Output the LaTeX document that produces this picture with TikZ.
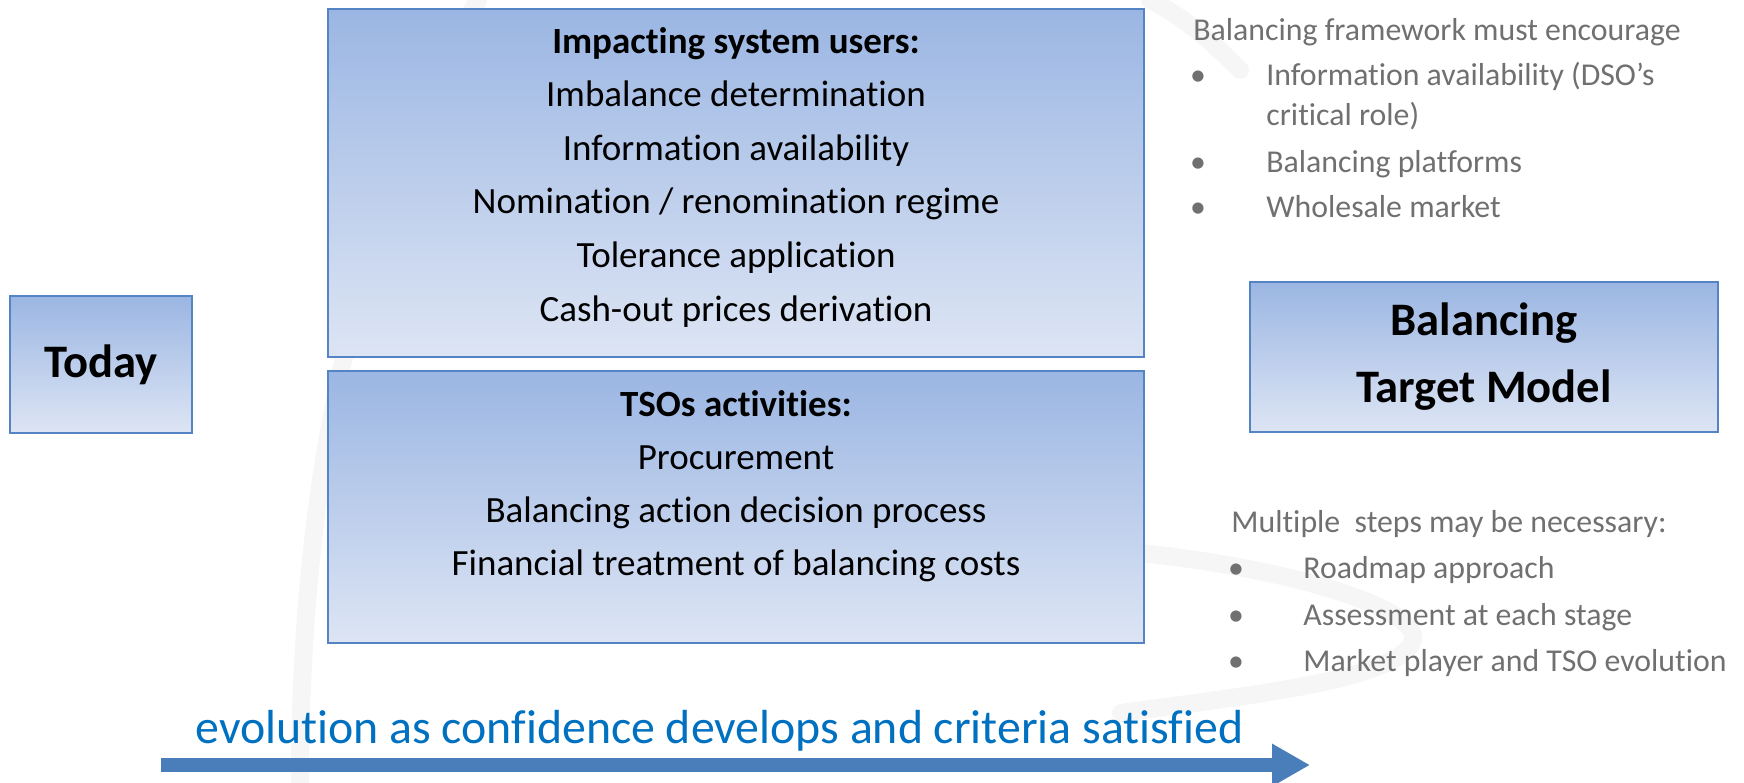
\documentclass[tikz,border=0pt]{standalone}
\usepackage{fontspec}
\setmainfont[Ligatures=NoCommon]{Carlito}
\usetikzlibrary{arrows.meta}

\definecolor{boxtop}{RGB}{155,182,227}
\definecolor{boxbot}{RGB}{221,229,244}
\definecolor{boxline}{RGB}{84,132,196}
\definecolor{notegrey}{RGB}{112,112,112}
\definecolor{evoblue}{RGB}{0,112,192}
\definecolor{arrowblue}{RGB}{74,126,187}

\begin{document}
\begin{tikzpicture}
  [x=0.5pt,y=-0.5pt,
   panel/.style={draw=boxline,line width=1pt,top color=boxtop,bottom color=boxbot,inner sep=0pt},
   bigtext/.style={font=\fontsize{23.3}{33.5}\selectfont\bfseries,align=center},
   paneltext/.style={font=\fontsize{18.5}{26.5}\selectfont,anchor=base,inner sep=0pt},
   note/.style={font=\fontsize{15.9}{20}\selectfont,text=notegrey,anchor=base west,inner sep=0pt},
   dot/.style={note,anchor=base},
   evotext/.style={font=\fontsize{23.9}{28}\selectfont,text=evoblue,anchor=base west,inner sep=0pt},
   swoosh/.style={draw=black!3.5,line width=9pt,line cap=round}]
  \useasboundingbox (0,0) rectangle (1744,782);

  % faint background swooshes
  \draw[swoosh] (478,0) .. controls (380,180) and (300,420) .. (300,782);
  \draw[swoosh] (1150,0) .. controls (1190,20) and (1220,50) .. (1240,70);
  \draw[swoosh] (1141,553) .. controls (1300,570) and (1420,610) .. (1413,640)
    .. controls (1400,680) and (1250,695) .. (1121,713);

  % boxes
  \node[panel,bigtext,minimum width=91pt,minimum height=68.5pt] (today) at (101,364.5) {Today};
  \node[panel,minimum width=408pt,minimum height=174pt] (users) at (736,183) {};
  \node[panel,minimum width=408pt,minimum height=136pt] (tsos) at (736,507) {};
  \node[panel,bigtext,minimum width=234pt,minimum height=75pt] (target) at (1484,357) {Balancing\\Target Model};

  % text of the two middle boxes
  \node[paneltext,font=\fontsize{18.5}{26.5}\selectfont\bfseries] (users0) at (736,53) {Impacting system users:};
  \foreach \txt [count=\i] in {Imbalance determination,Information availability,
      Nomination / renomination regime,Tolerance application,Cash-out prices derivation}
    \node[paneltext] (users\i) at (736,53+53.6*\i) {\txt};

  \node[paneltext,font=\fontsize{18.5}{26.5}\selectfont\bfseries] (tsos0) at (736,416) {TSOs activities:};
  \foreach \txt [count=\i] in {Procurement,Balancing action decision process,
      Financial treatment of balancing costs}
    \node[paneltext] (tsos\i) at (736,416+53*\i) {\txt};

  % notes on the right
  \node[note] (enc) at (1193,40) {Balancing framework must encourage};
  \foreach \y/\txt [count=\i] in {85/{Information availability (DSO’s},172/{Balancing platforms},217/{Wholesale market}}
  {
    \node[dot] (encdot\i) at (1198,\y) {•};
    \node[note] (enc\i) at (1266,\y) {\txt};
  }
  \node[note] (enc1b) at (1266,125) {critical role)};

  \node[note] (steps) at (1231,532) {Multiple\ \ steps may be necessary:};
  \foreach \y/\txt [count=\i] in {578/{Roadmap approach},625/{Assessment at each stage},671/{Market player and TSO evolution}}
  {
    \node[dot] (stepdot\i) at (1236,\y) {•};
    \node[note] (step\i) at (1303,\y) {\txt};
  }

  % evolution arrow
  \node[evotext] (evo) at (195,743) {evolution as confidence develops and criteria satisfied};
  \coordinate (evostart) at (161,765);
  \coordinate (evoend) at (1310,765);
  \draw[arrowblue,line width=7pt,-{Triangle[length=19pt,width=20pt]}] (evostart) -- (evoend);
\end{tikzpicture}
\end{document}
